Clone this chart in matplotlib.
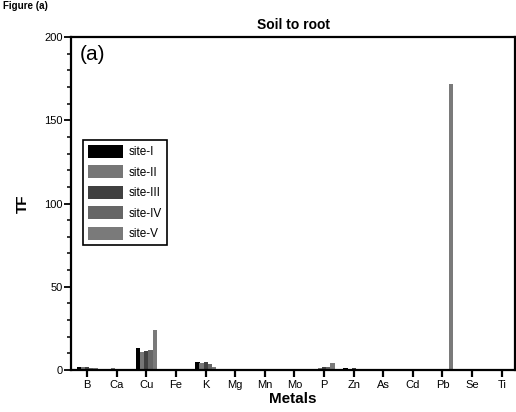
import numpy as np
import matplotlib.pyplot as plt

plt.rcParams['font.family'] = ['Liberation Sans', 'DejaVu Sans']

metals = ['B', 'Ca', 'Cu', 'Fe', 'K', 'Mg', 'Mn', 'Mo', 'P', 'Zn', 'As', 'Cd', 'Pb', 'Se', 'Ti']
sites = ['site-I', 'site-II', 'site-III', 'site-IV', 'site-V']

site_I = [1.5, 0.5, 13.0, 0.2, 4.5, 0.1, 0.1, 0.1, 0.5, 1.0, 0.0, 0.0, 0.0, 0.0, 0.0]
site_II = [2.0, 1.0, 10.5, 0.2, 4.0, 0.1, 0.1, 0.1, 1.0, 0.5, 0.0, 0.0, 0.0, 0.0, 0.0]
site_III = [1.5, 0.5, 11.5, 0.2, 4.5, 0.1, 0.1, 0.1, 1.5, 1.0, 0.0, 0.0, 0.0, 0.0, 0.0]
site_IV = [1.0, 0.5, 12.0, 0.2, 3.5, 0.1, 0.1, 0.1, 2.0, 0.5, 0.0, 0.0, 0.0, 0.0, 0.0]
site_V = [1.0, 0.5, 24.0, 0.2, 2.0, 0.1, 0.1, 0.1, 4.0, 0.5, 0.0, 0.0, 172.0, 0.0, 0.0]

values = [site_I, site_II, site_III, site_IV, site_V]
colors = ['#000000', '#767676', '#404040', '#666666', '#7a7a7a']

fig = plt.figure(figsize=(5.16, 4.12), dpi=100)
ax = fig.add_axes([0.1376, 0.102, 0.8605, 0.808])

x = np.arange(len(metals))
w = 0.14
for i, (name, vals) in enumerate(zip(sites, values)):
    ax.bar(x + (i - 2) * w, vals, width=w * 1.05, color=colors[i], label=name)

ax.set_xlim(-0.55, 14.45)
ax.set_ylim(0, 200)
ax.set_xticks(x)
ax.set_xticklabels(metals, fontsize=8)
ax.set_yticks([0, 50, 100, 150, 200])
ax.set_yticks(np.arange(0, 201, 10), minor=True)
ax.tick_params(axis='y', which='major', direction='out', length=5, width=1.3, labelsize=8, pad=1)
ax.tick_params(axis='y', which='minor', direction='out', length=3, width=1.1)
ax.tick_params(axis='x', which='major', direction='out', length=5, width=1.6, labelsize=8, pad=2)
for s in ax.spines.values():
    s.set_linewidth(1.6)

ax.set_xlabel('Metals', fontsize=11, fontweight='bold', labelpad=2)
ax.set_ylabel('TF', fontsize=11, fontweight='bold', labelpad=10)
ax.set_title('Soil to root', fontsize=10, fontweight='bold', pad=6)
ax.text(0.02, 0.975, '(a)', transform=ax.transAxes, fontsize=15, va='top', ha='left')

leg = ax.legend(loc='upper left', bbox_to_anchor=(0.027, 0.69), borderaxespad=0,
                fontsize=8.5, fancybox=False, framealpha=1, edgecolor='black',
                handlelength=3.0, handleheight=1.3, labelspacing=0.6,
                handletextpad=0.5, borderpad=0.4)
leg.get_frame().set_linewidth(1.2)

fig.text(0.005, 0.998, 'Figure (a)', fontsize=7, fontweight='bold', va='top', ha='left')

fig.savefig('out.png', dpi=100)
